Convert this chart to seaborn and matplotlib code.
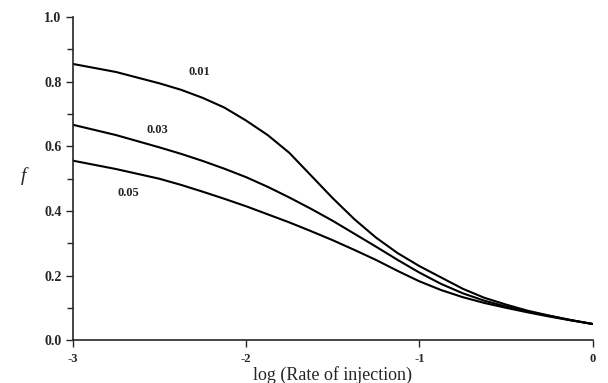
import matplotlib
matplotlib.use("Agg")
from matplotlib import pyplot as plt
import numpy as np
import pandas as pd
import seaborn as sns

log_rate = [-3.0, -2.75, -2.5, -2.375, -2.25, -2.125, -2.0, -1.875, -1.75, -1.625, -1.5, -1.375,
            -1.25, -1.125, -1.0, -0.875, -0.75, -0.625, -0.5, -0.375, -0.25, -0.125, 0.0]
f_001 = [0.855, 0.83, 0.795, 0.775, 0.75, 0.72, 0.68, 0.635, 0.58, 0.51, 0.44, 0.375,
         0.318, 0.27, 0.23, 0.195, 0.16, 0.132, 0.111, 0.092, 0.077, 0.063, 0.051]
f_003 = [0.667, 0.635, 0.597, 0.577, 0.555, 0.531, 0.505, 0.475, 0.442, 0.407, 0.37, 0.33,
         0.29, 0.249, 0.21, 0.175, 0.146, 0.123, 0.105, 0.089, 0.076, 0.063, 0.051]
f_005 = [0.556, 0.53, 0.50, 0.481, 0.46, 0.438, 0.415, 0.39, 0.365, 0.338, 0.31, 0.28,
         0.249, 0.215, 0.183, 0.156, 0.134, 0.116, 0.101, 0.087, 0.074, 0.062, 0.051]
curve_labels = ["0.01", "0.03", "0.05"]
label_pos = [(-2.27, 0.83), (-2.51, 0.65), (-2.68, 0.456)]
x_ticks = [-3, -2, -1, 0]
y_ticks = [0.0, 0.2, 0.4, 0.6, 0.8, 1.0]

sns.set_style("ticks")
plt.rcParams["font.family"] = ["Liberation Serif", "DejaVu Serif"]
plt.rcParams["axes.unicode_minus"] = False

df = pd.DataFrame({
    "x": log_rate * 3,
    "f": f_001 + f_003 + f_005,
    "curve": sum([[c] * len(log_rate) for c in curve_labels], []),
})

fig = plt.figure(figsize=(6.08, 3.83), dpi=100)
ax = fig.add_axes([0.1196, 0.111, 0.8552, 0.8446])
sns.lineplot(data=df, x="x", y="f", units="curve", estimator=None, color="black", linewidth=1.5, ax=ax)

for lab, (lx, ly) in zip(curve_labels, label_pos):
    ax.text(lx, ly, lab, fontsize=9, fontweight="bold", ha="center", va="center")

ax.set_xlim(-3, 0)
ax.set_ylim(0, 1.0)
ax.set_xticks(x_ticks)
ax.set_xticklabels([str(t) for t in x_ticks], fontsize=9, fontweight="bold")
ax.set_yticks(y_ticks)
ax.set_yticklabels(["%.1f" % t for t in y_ticks], fontsize=10, fontweight="bold")
ax.set_yticks(np.arange(0.1, 1.0, 0.2), minor=True)
ax.tick_params(axis="both", which="major", length=5, width=1, direction="out")
ax.tick_params(axis="x", pad=4)
ax.tick_params(axis="y", pad=3)
ax.tick_params(axis="y", which="minor", length=4, width=1, direction="out")
ax.set_xlabel("log (Rate of injection)", fontsize=13, labelpad=0)
ax.xaxis.set_label_coords(0.5, -0.078)
ax.set_ylabel("f", fontsize=14, fontstyle="italic", rotation=0)
ax.yaxis.set_label_coords(-0.095, 0.48)
sns.despine(ax=ax)
for s in ["left", "bottom"]:
    ax.spines[s].set_linewidth(1.2)
fig.savefig("out.png", dpi=100)
